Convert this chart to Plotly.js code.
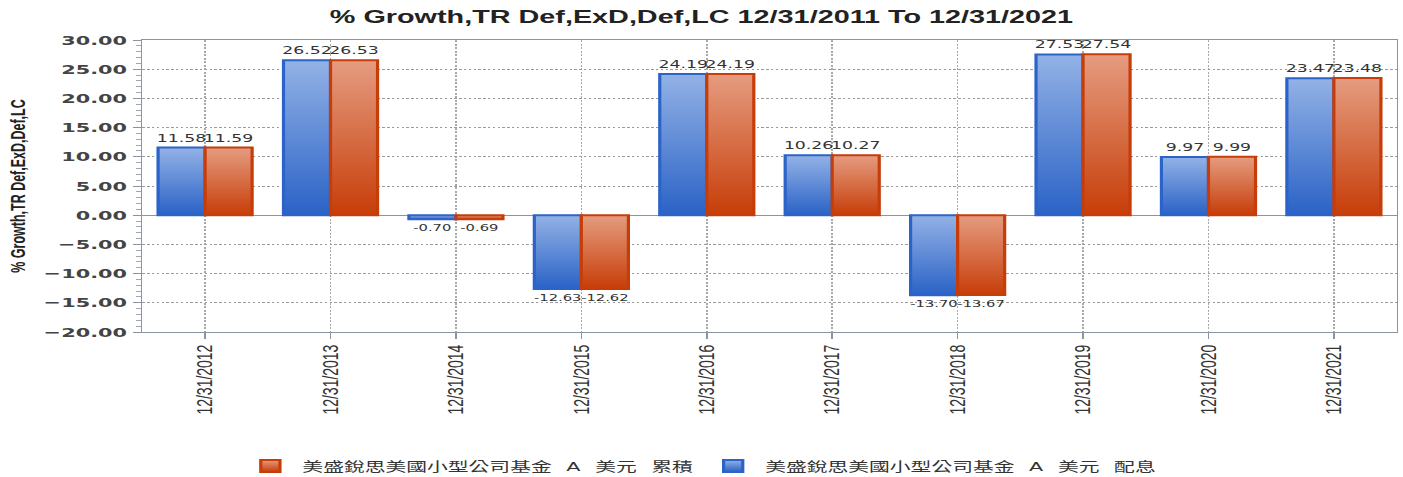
<!DOCTYPE html>
<html>
<head>
<meta charset="utf-8">
<script src="https://cdn.plot.ly/plotly-3.0.1.min.js"></script>
<style>
  html, body { margin: 0; padding: 0; background: #fff; overflow: hidden; }
  #wrap { width: 1403px; height: 477px; overflow: hidden; }
  #chart { width: 877px; height: 477px; transform: scaleX(1.59977); transform-origin: 0 0; }
</style>
</head>
<body>
<div id="wrap"><div id="chart"></div></div>
<script>
// ---- data ----
const categories = ['12/31/2012', '12/31/2013', '12/31/2014', '12/31/2015', '12/31/2016',
                    '12/31/2017', '12/31/2018', '12/31/2019', '12/31/2020', '12/31/2021'];
const distName = '美盛銳思美國小型公司基金 A 美元 配息';
const accName  = '美盛銳思美國小型公司基金 A 美元 累積';
const distValues = [11.58, 26.52, -0.70, -12.63, 24.19, 10.26, -13.70, 27.53, 9.97, 23.47];
const accValues  = [11.59, 26.53, -0.69, -12.62, 24.19, 10.27, -13.67, 27.54, 9.99, 23.48];
const yTickValues = [-20, -15, -10, -5, 0, 5, 10, 15, 20, 25, 30];
const chartTitle = '% Growth,TR Def,ExD,Def,LC 12/31/2011 To 12/31/2021';
const yTitle = '% Growth,TR Def,ExD,Def,LC';

const BLUE = '#4d7fd6', BLUE_LINE = '#2c63c8';
const ORANGE = '#d8643a', ORANGE_LINE = '#c63d0a';
function labelFont(vals) {
  return { family: 'DejaVu Sans, sans-serif', color: '#333',
           size: vals.map(function (v) { return v < 0 ? 9.2 : 10.8; }) };
}
function legendName(s) { return '<span style="word-spacing:5px">' + s + '</span>'; }

const traces = [
  {
    type: 'bar', name: legendName(distName), x: categories, y: distValues,
    marker: { color: BLUE, line: { color: BLUE_LINE, width: 2 } },
    texttemplate: '%{y:.2f}', textposition: 'outside', textfont: labelFont(distValues),
    constraintext: 'none', cliponaxis: false, hoverinfo: 'none'
  },
  {
    type: 'bar', name: legendName(accName), x: categories, y: accValues,
    marker: { color: ORANGE, line: { color: ORANGE_LINE, width: 2 } },
    texttemplate: '%{y:.2f}', textposition: 'outside', textfont: labelFont(accValues),
    constraintext: 'none', cliponaxis: false, hoverinfo: 'none'
  }
];

const layout = {
  width: 877, height: 477,
  margin: { l: 89, r: 4, t: 40, b: 145 },
  paper_bgcolor: '#fff', plot_bgcolor: '#fff',
  barmode: 'group', bargap: 0.25, bargroupgap: 0,
  showlegend: true,
  title: {
    text: '<b>' + chartTitle + '</b>',
    font: { family: 'Liberation Sans, Arial, sans-serif', size: 18, color: '#222' },
    x: 0.5, xref: 'container', xanchor: 'center',
    y: 1 - 17 / 477, yref: 'container', yanchor: 'middle'
  },
  xaxis: {
    type: 'category',
    tickangle: -90,
    tickfont: { family: 'Liberation Sans, Arial, sans-serif', size: 14, color: '#333' },
    ticks: 'outside', ticklen: 6, tickcolor: '#8c93a3',
    showgrid: true, gridcolor: '#a8a8a8', griddash: '2px,1.5px', gridwidth: 1,
    showline: true, linecolor: '#8c93a3', linewidth: 1, mirror: true,
    zeroline: false, fixedrange: true
  },
  yaxis: {
    range: [-20, 30],
    tickvals: yTickValues, tickformat: '.2f',
    tickfont: { family: 'DejaVu Sans, sans-serif', size: 13, color: '#444', weight: 'bold' },
    ticks: 'outside', ticklen: 5, tickcolor: '#8c93a3', ticklabelstandoff: 1,
    minor: { dtick: 1, ticks: 'outside', ticklen: 3, tickcolor: '#a0a6b4', showgrid: false },
    showgrid: true, gridcolor: '#9a9a9a', griddash: '1.5px,1.5px', gridwidth: 1,
    zeroline: true, zerolinecolor: '#8c93a3', zerolinewidth: 1,
    showline: true, linecolor: '#8c93a3', linewidth: 1, mirror: true,
    title: {
      text: '<b>' + yTitle + '</b>', standoff: 8,
      font: { family: 'Liberation Sans, Arial, sans-serif', size: 12.5, color: '#222' }
    },
    fixedrange: true
  },
  legend: {
    orientation: 'h', traceorder: 'reversed',
    x: 0.5, xref: 'container', xanchor: 'center',
    y: 1 - 466 / 477, yref: 'container', yanchor: 'middle',
    font: { family: 'DejaVu Sans, Noto Sans CJK TC, sans-serif', size: 13, color: '#333' },
    itemwidth: 30, itemclick: false, itemdoubleclick: false
  }
};

Plotly.newPlot('chart', traces, layout, { displayModeBar: false, staticPlot: true }).then(function (gd) {
  // vertical gradient fills like the reference bars
  const svg = gd.querySelector('.main-svg');
  const NS = 'http://www.w3.org/2000/svg';
  const defs = document.createElementNS(NS, 'defs');
  function grad(id, top, bottom) {
    const g = document.createElementNS(NS, 'linearGradient');
    g.setAttribute('id', id);
    g.setAttribute('x1', '0'); g.setAttribute('y1', '0');
    g.setAttribute('x2', '0'); g.setAttribute('y2', '1');
    [[0, top], [1, bottom]].forEach(function (s) {
      const st = document.createElementNS(NS, 'stop');
      st.setAttribute('offset', s[0]);
      st.setAttribute('stop-color', s[1]);
      g.appendChild(st);
    });
    defs.appendChild(g);
  }
  grad('gBlue', '#93b2e6', '#2a62c6');
  grad('gOrange', '#e59c80', '#c73d08');
  svg.insertBefore(defs, svg.firstChild);
  const barTraces = gd.querySelectorAll('.barlayer .trace');
  const ids = ['gBlue', 'gOrange'];
  barTraces.forEach(function (t, i) {
    t.querySelectorAll('.point path').forEach(function (p) { p.style.fill = 'url(#' + ids[i] + ')'; });
  });
  gd.querySelectorAll('.legend .traces').forEach(function (item) {
    const txt = item.querySelector('.legendtext');
    const p = item.querySelector('.legendpoints path');
    if (!txt || !p) return;
    p.style.fill = 'url(#' + (txt.textContent === distName ? 'gBlue' : 'gOrange') + ')';
  });
});
</script>
</body>
</html>
